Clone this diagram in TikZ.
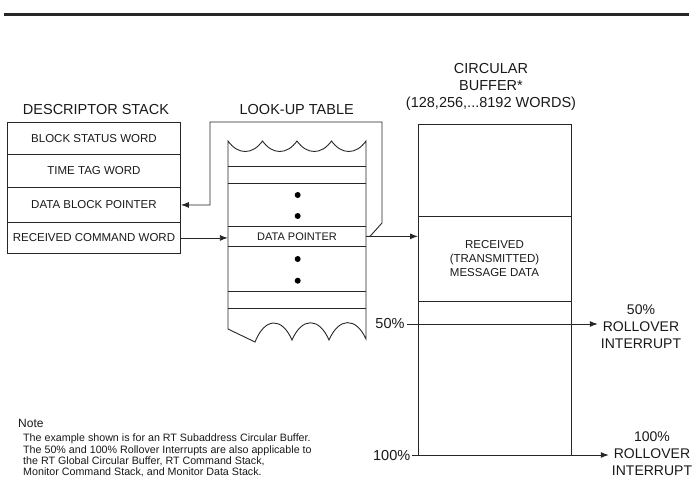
\documentclass[tikz,border=0pt]{standalone}
\usepackage{fontspec}
\setmainfont{Liberation Sans}
\usetikzlibrary{arrows.meta}
\begin{document}
\begin{tikzpicture}[x=1pt,y=-1pt,
  ln/.style={draw=black!85, line width=0.9pt},
  arr/.style={ln, -{Latex[length=8pt,width=6pt]}},
  title/.style={font=\fontsize{14.5}{17}\selectfont, align=center, inner sep=1pt, text=black!90},
  rowbox/.style={draw=black!85, line width=0.9pt, minimum width=173pt, anchor=north west, inner sep=0pt, font=\fontsize{11.5}{13}\selectfont, text=black!90},
  small/.style={font=\fontsize{11}{13}\selectfont, inner sep=0pt, text=black!90},
  lbl/.style={font=\fontsize{14.5}{17}\selectfont, align=center, inner sep=2pt, text=black!90},
  dot/.style={circle, fill=black, inner sep=0pt, minimum size=6pt},
]
\useasboundingbox (0,0) rectangle (693,485);
\draw[line width=3pt, black!85] (4,14) -- (689,14);

% Descriptor stack
\node[title] (tds) at (96,110) {DESCRIPTOR STACK};
\node[rowbox, minimum height=32pt] (bsw) at (7,122) {BLOCK STATUS WORD};
\node[rowbox, minimum height=33pt] (ttw) at (7,154) {TIME TAG WORD};
\node[rowbox, minimum height=35pt] (dbp) at (7,187) {DATA BLOCK POINTER};
\node[rowbox, minimum height=31pt] (rcw) at (7,222) {RECEIVED COMMAND WORD};

% Look-up table
\node[title] (tlt) at (296.7,110) {LOOK-UP TABLE};
\draw[ln] (228,141)
  .. controls (238,155) and (252.5,155) .. (262.5,141)
  .. controls (272.5,155) and (287,155) .. (297,141)
  .. controls (307,155) and (321.5,155) .. (331.5,141)
  .. controls (341.5,155) and (356,155) .. (366,141)
  -- (366,339)
  .. controls (356,317) and (339,317) .. (329,340)
  .. controls (319,317) and (302,317) .. (292,340)
  .. controls (282,317) and (265,317) .. (255,342)
  -- (228,329) -- cycle;
\foreach \yy in {166.7,183.3,226,246.7,291.7,308.3}
  \draw[ln] (228,\yy) -- (366,\yy);
\node[small, minimum width=138pt, minimum height=20.7pt] (dp) at (297,236.35) {DATA POINTER};
\node[dot] (d1) at (297.7,195) {};
\node[dot] (d2) at (297.7,216) {};
\node[dot] (d3) at (297.7,259) {};
\node[dot] (d4) at (297.7,280.7) {};

% Circular buffer
\node[title] (tcb) at (491,87) {CIRCULAR\\BUFFER*\\(128,256,...8192 WORDS)};
\node[draw=black!85, line width=0.9pt, minimum width=153pt, minimum height=331pt, anchor=north west, inner sep=0pt] (buf) at (418,124) {};
\draw[ln] (418,216) -- (571,216);
\draw[ln] (418,301) -- (571,301);
\node[font=\fontsize{11.5}{14.3}\selectfont, align=center, text=black!90] (msg) at (494.5,258.5) {RECEIVED\\(TRANSMITTED)\\MESSAGE DATA};

% Labels
\node[lbl] (l50) at (390,324) {50\%};
\node[lbl] (l100) at (391.7,455) {100\%};
\node[font=\fontsize{14}{17}\selectfont, align=center, inner sep=3pt, text=black!90] (r50) at (641,327) {50\%\\ROLLOVER\\INTERRUPT};
\node[font=\fontsize{14}{17}\selectfont, align=center, inner sep=3pt, text=black!90] (r100) at (652,454) {100\%\\ROLLOVER\\INTERRUPT};

% Connectors
\draw[arr] (rcw.east) -- (rcw.east -| dp.west);
\draw[arr] (dp.east) -- (dp.east -| buf.west);
\coordinate (p1) at (370,236.35);
\coordinate (p2) at (382,223);
\coordinate (p3) at (382,122);
\coordinate (p4) at (210,122);
\draw[arr] (dp.east) -- (p1) -- (p2) -- (p3) -- (p4) -- (p4 |- dbp.east) -- (dbp.east);
\draw[arr] (l50.east) -- (l50.east -| r50.west);
\draw[arr] (l100.east) -- (l100.east -| r100.west);

% Note
\node[anchor=west, font=\fontsize{12}{14}\selectfont, inner sep=0pt, text=black!90] (note) at (18,423) {Note};
\node[anchor=north west, align=left, font=\fontsize{10.7}{11.2}\selectfont, inner sep=0pt, text=black!90] (notebody) at (23,434) {The example shown is for an RT Subaddress Circular Buffer.\\The 50\% and 100\% Rollover Interrupts are also applicable to\\the RT Global Circular Buffer, RT Command Stack,\\Monitor Command Stack, and Monitor Data Stack.};
\end{tikzpicture}
\end{document}
